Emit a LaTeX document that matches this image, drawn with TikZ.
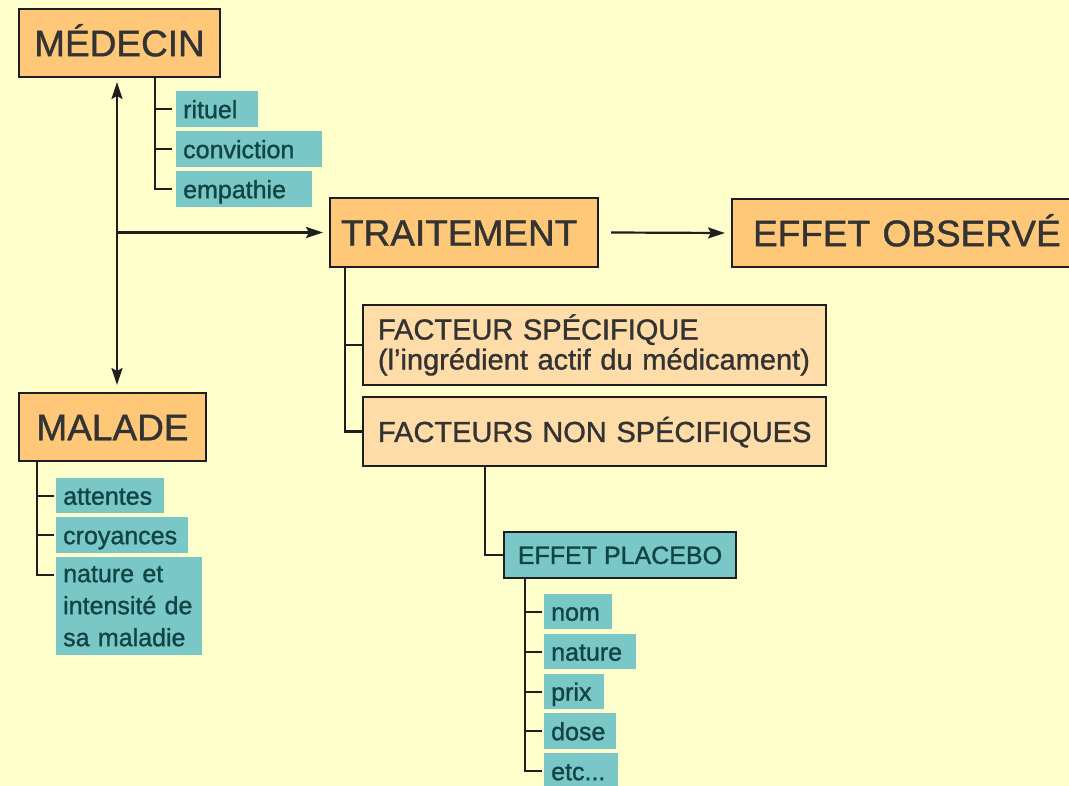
\documentclass[tikz,border=0pt]{standalone}
\usepackage{fontspec}
\setmainfont{Liberation Sans}[FakeBold=1.1]
\usetikzlibrary{arrows.meta}
\definecolor{bg}{HTML}{FFFFCC}
\definecolor{orangeA}{HTML}{FFC878}
\definecolor{orangeB}{HTML}{FFDCA8}
\definecolor{tealA}{HTML}{79C7C6}
\definecolor{boxline}{HTML}{1E1E1E}
\definecolor{txt}{HTML}{333333}
\definecolor{tealtxt}{HTML}{114444}
\begin{document}
\begin{tikzpicture}[x=1pt,y=-1pt,
  bigbox/.style={draw=boxline, line width=2pt, fill=orangeA, text=txt,
    font=\fontsize{37}{44}\selectfont, inner sep=0pt, anchor=north west,
    text height=26.5pt, text depth=0pt},
  midbox/.style={draw=boxline, line width=2pt, fill=orangeB, text=txt,
    font=\fontsize{29}{30}\selectfont, inner ysep=0pt, inner xsep=15pt,
    anchor=north west, align=left, text width=433pt, minimum width=463pt},
  plbox/.style={draw=boxline, line width=2pt, fill=tealA, text=tealtxt,
    font=\fontsize{25}{30}\selectfont, inner sep=0pt, anchor=north west,
    text height=17.9pt, text depth=0pt},
  tealbase/.style={fill=tealA, text=tealtxt, font=\fontsize{25}{32}\selectfont,
    inner xsep=7pt, inner ysep=0pt, anchor=north west, align=left},
  tealbox/.style={tealbase, text height=18pt, text depth=0pt},
  tree/.style={draw=boxline, line width=2.2pt},
  arr/.style={draw=boxline, line width=2.2pt},
  tip/.style={-{Stealth[length=17pt,width=11pt,inset=3pt]}}
]
\useasboundingbox[fill=bg] (0,0) rectangle (1069,786);

% main boxes
\node[bigbox, minimum width=201pt, minimum height=68pt] (med) at (18,8) {MÉDECIN};
\node[bigbox, minimum width=187pt, minimum height=68pt] (mal) at (18,392) {MALADE};
\node[bigbox, minimum height=69pt, align=left, inner xsep=11pt, text width=246pt] (trait) at (329,197) {\mbox{TRAITEMENT}};
\node[bigbox, minimum height=68pt, align=left, inner xsep=21pt, text width=320pt] (effet) at (731,198) {\mbox{EFFET OBSERVÉ}};

\node[midbox, minimum height=80pt] (fspec) at (362,304) {\mbox{FACTEUR SPÉCIFIQUE}\\\mbox{(l’ingrédient actif du médicament)}};
\node[midbox, minimum height=69pt, text height=21pt, text depth=0pt] (fnon) at (362,396) {\mbox{FACTEURS NON SPÉCIFIQUES}};

\node[plbox, minimum width=232pt, minimum height=46pt] (plac) at (503,531) {EFFET PLACEBO};

% medecin items
\node[tealbox, text width=68pt, minimum height=36pt] (rit) at (176,91) {rituel};
\node[tealbox, text width=132pt, minimum height=36pt] (conv) at (176,131) {conviction};
\node[tealbox, text width=122pt, minimum height=36pt] (emp) at (176,171) {empathie};

% malade items
\node[tealbox, text width=94pt, minimum height=35pt] (att) at (56,478) {attentes};
\node[tealbox, text width=118pt, minimum height=36pt] (croy) at (56,517) {croyances};
\node[tealbase, text width=132pt, minimum height=98pt] (nat) at (56,557) {nature et\\intensité de\\sa maladie};

% placebo items
\node[tealbox, text width=54pt, minimum height=35pt] (nom) at (544,594) {nom};
\node[tealbox, text width=78pt, minimum height=35pt] (natp) at (544,634) {nature};
\node[tealbox, text width=46pt, minimum height=35pt] (prix) at (544,674) {prix};
\node[tealbox, text width=58pt, minimum height=36pt] (dose) at (544,713) {dose};
\node[tealbox, text width=60pt, minimum height=36pt] (etc) at (544,753) {etc...};

% arrows
\coordinate (ax) at (117,0);
\draw[arr,{Stealth[length=17pt,width=11pt,inset=3pt]}-{Stealth[length=17pt,width=11pt,inset=3pt]}]
  ([yshift=-4pt]ax |- med.south) -- ([yshift=7pt]ax |- mal.north);
\draw[arr,tip] (ax |- trait.west) -- ([xshift=-6pt]trait.west);
\draw[arr,tip] ([xshift=12pt]trait.east) -- ([xshift=-6pt]effet.west);

% medecin tree
\coordinate (mx) at (155,0);
\draw[tree] (mx |- med.south) |- ([xshift=-4pt]emp.west);
\draw[tree] (mx |- rit.west) -- ([xshift=-4pt]rit.west);
\draw[tree] (mx |- conv.west) -- ([xshift=-4pt]conv.west);

% malade tree
\coordinate (lx) at (37,0);
\coordinate (natt) at ([xshift=-2pt,yshift=-18pt]nat.north west);
\draw[tree] (lx |- mal.south) |- (natt);
\draw[tree] (lx |- att.west) -- ([xshift=-2pt]att.west);
\draw[tree] (lx |- croy.west) -- ([xshift=-2pt]croy.west);

% traitement tree
\coordinate (tx) at (345,0);
\draw[tree] (tx |- trait.south) |- (fnon.west);
\draw[tree] (tx |- fspec.west) -- (fspec.west);

% facteurs non -> placebo
\coordinate (px) at (485,0);
\draw[tree] (px |- fnon.south) |- (plac.west);

% placebo tree
\coordinate (qx) at (525,0);
\draw[tree] (qx |- plac.south) |- ([xshift=-2pt]etc.west);
\draw[tree] (qx |- nom.west) -- ([xshift=-2pt]nom.west);
\draw[tree] (qx |- natp.west) -- ([xshift=-2pt]natp.west);
\draw[tree] (qx |- prix.west) -- ([xshift=-2pt]prix.west);
\draw[tree] (qx |- dose.west) -- ([xshift=-2pt]dose.west);
\end{tikzpicture}
\end{document}
